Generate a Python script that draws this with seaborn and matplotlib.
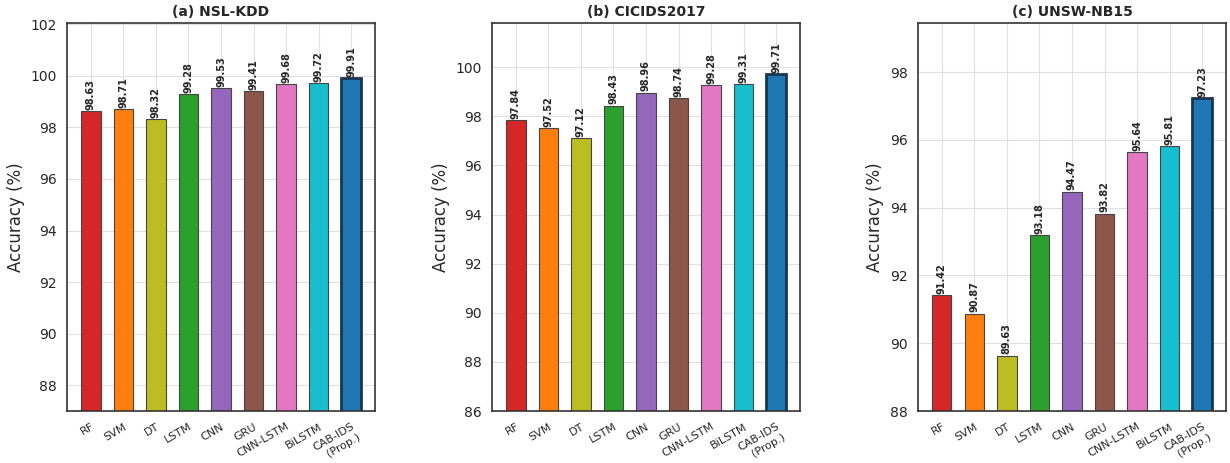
import matplotlib
matplotlib.use("Agg")
import matplotlib.pyplot as plt
import seaborn as sns
import pandas as pd

models = ["RF", "SVM", "DT", "LSTM", "CNN", "GRU", "CNN-LSTM", "BiLSTM", "CAB-IDS\n(Prop.)"]
colors = ["#d62728", "#ff7f0e", "#bcbd22", "#2ca02c", "#9467bd",
          "#8c564b", "#e377c2", "#17becf", "#1f77b4"]

nsl_kdd = [98.63, 98.71, 98.32, 99.28, 99.53, 99.41, 99.68, 99.72, 99.91]
cicids2017 = [97.84, 97.52, 97.12, 98.43, 98.96, 98.74, 99.28, 99.31, 99.71]
unsw_nb15 = [91.42, 90.87, 89.63, 93.18, 94.47, 93.82, 95.64, 95.81, 97.23]

panels = [
    ("(a) NSL-KDD", nsl_kdd, (87, 102.05), list(range(88, 103, 2))),
    ("(b) CICIDS2017", cicids2017, (86, 101.8), list(range(86, 101, 2))),
    ("(c) UNSW-NB15", unsw_nb15, (88, 99.45), list(range(88, 99, 2))),
]

sns.set_style("white")
plt.rcParams["font.family"] = ["DejaVu Sans"]

fig = plt.figure(figsize=(12.3, 4.63), dpi=100)
lefts = [0.0545, 0.4, 0.7463]
for left, (title, vals, ylim, yticks) in zip(lefts, panels):
    ax = fig.add_axes([left, 0.1123, 0.2504, 0.838])
    df = pd.DataFrame({"Model": models, "Accuracy": vals})
    sns.barplot(data=df, x="Model", y="Accuracy", hue="Model", palette=colors,
                saturation=1, legend=False, width=0.6, ax=ax,
                edgecolor="#444444", linewidth=0.8)
    for i, patch in enumerate(ax.patches):
        if i == len(models) - 1:
            patch.set_edgecolor("#1a3550")
            patch.set_linewidth(2.0)
    for container in ax.containers:
        ax.bar_label(container, fmt="%.2f", rotation=90, fontsize=7,
                     fontweight="bold", padding=1)
    ax.set_ylim(*ylim)
    ax.set_xlim(-0.73, len(models) - 1 + 0.73)
    ax.set_yticks(yticks)
    ax.set_xticks(range(len(models)))
    ax.set_xticklabels(models, rotation=30, ha="right", fontsize=8,
                       rotation_mode="anchor")
    ax.tick_params(axis="y", labelsize=10, length=4, color="#333333")
    ax.tick_params(axis="x", length=4, color="#333333")
    ax.set_xlabel("")
    ax.set_ylabel("Accuracy (%)", fontsize=12)
    ax.set_title(title, fontsize=10, fontweight="bold", pad=5)
    ax.grid(True, color="#e0e0e0", linewidth=0.8)
    ax.set_axisbelow(True)
    for sp in ax.spines.values():
        sp.set_color("#333333")
        sp.set_linewidth(1.2)

fig.savefig("out.png", dpi=100)
